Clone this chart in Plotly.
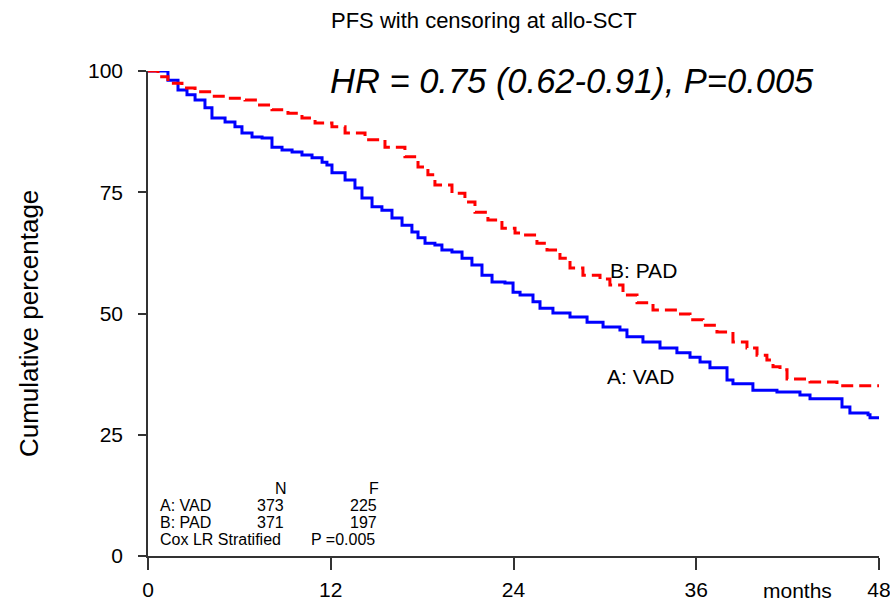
import plotly.graph_objects as go

# Kaplan-Meier step points (months, cumulative %)
vad_steps = [(0, 100), (1.31, 98.1), (1.97, 96.1), (2.56, 95.1), (3.09, 94.0), (3.74, 92.4),
             (4.20, 90.3), (5.06, 89.5), (5.71, 88.5), (6.17, 87.2), (6.83, 86.4), (7.49, 86.2),
             (8.14, 84.3), (8.80, 83.7), (9.46, 83.3), (10.11, 82.7), (10.77, 82.1), (11.43, 81.2),
             (11.75, 80.6), (12.08, 79.0), (12.94, 77.5), (13.59, 75.9), (14.05, 73.8), (14.71, 72.0),
             (15.36, 71.3), (16.02, 69.7), (16.68, 68.2), (17.33, 66.8), (17.73, 65.6), (18.19, 64.5),
             (18.84, 64.1), (19.30, 63.1), (19.96, 62.7), (20.62, 61.4), (21.27, 60.0), (21.93, 57.9),
             (22.59, 56.5), (23.44, 56.3), (23.97, 54.4), (24.43, 53.8), (25.28, 52.4), (25.74, 51.1),
             (26.59, 50.1), (27.71, 49.3), (28.83, 48.2), (29.88, 47.2), (30.99, 46.6), (31.45, 45.2),
             (32.50, 44.1), (33.62, 42.9), (34.73, 41.9), (35.59, 41.0), (36.25, 40.0), (36.90, 38.8),
             (38.02, 36.3), (38.41, 35.5), (39.72, 34.2), (41.30, 33.8), (42.81, 33.2), (43.47, 32.4),
             (45.57, 30.7), (46.09, 29.5), (47.28, 29.1), (47.41, 28.5), (48, 28.5)]

pad_steps = [(0, 100), (0.66, 98.8), (1.31, 97.5), (2.23, 96.5), (3.09, 95.7), (4.20, 94.8),
             (5.25, 94.4), (6.37, 94.0), (7.22, 93.0), (8.14, 92.0), (9.19, 91.3), (10.11, 90.3),
             (10.97, 89.3), (12.08, 88.5), (12.94, 87.2), (14.25, 85.8), (15.56, 84.3), (16.87, 82.3),
             (17.73, 80.2), (18.38, 78.6), (18.84, 76.5), (19.96, 74.8), (20.81, 73.0), (21.47, 70.9),
             (22.32, 69.3), (23.24, 67.6), (24.10, 66.6), (24.62, 66.2), (25.54, 64.5), (26.20, 63.1),
             (27.05, 61.4), (27.71, 59.4), (28.56, 57.9), (29.68, 57.1), (30.33, 55.9), (31.19, 53.8),
             (32.11, 52.2), (33.16, 50.7), (34.73, 49.9), (35.59, 48.7), (36.44, 47.6), (37.36, 46.2),
             (38.41, 44.1), (39.33, 42.9), (39.99, 41.4), (40.64, 40.4), (41.04, 39.0), (41.50, 38.4),
             (41.96, 36.5), (43.47, 35.9), (45.24, 35.1), (48, 35.1)]

x_ticks = [0, 12, 24, 36, 48]
y_ticks = [0, 25, 50, 75, 100]

title_text = "PFS with censoring at allo-SCT"
hr_text = "HR = 0.75 (0.62-0.91), P=0.005"
y_title = "Cumulative percentage"
x_unit = "months"
table_rows = ["A: VAD", "B: PAD", "Cox LR Stratified"]
table_n = ["373", "371"]
table_f = ["225", "197"]
table_p = "P =0.005"

FONT = "Liberation Sans, Arial, sans-serif"

vad_x, vad_y = zip(*vad_steps)
pad_x, pad_y = zip(*pad_steps)

fig = go.Figure()
fig.add_trace(go.Scatter(x=vad_x, y=vad_y, mode="lines", line_shape="hv",
                         line=dict(color="#0000FF", width=3), name="A: VAD"))
fig.add_trace(go.Scatter(x=pad_x, y=pad_y, mode="lines", line_shape="hv",
                         line=dict(color="#FF0000", width=3, dash="12px,6px"), name="B: PAD"))

ann = []
def A(text, x, y, size, xanchor="center", yanchor="middle", xref="x", yref="y", italic=False, angle=0):
    ann.append(dict(text=f"<i>{text}</i>" if italic else text, x=x, y=y, xref=xref, yref=yref,
                    showarrow=False, xanchor=xanchor, yanchor=yanchor, textangle=angle,
                    font=dict(family=FONT, size=size, color="black")))

A(title_text, 0.4596, 1.105, 22, xref="paper", yref="paper")
A(hr_text, 27.84, 97.9, 34.5, italic=True)
A(y_title, -0.163, 0.48, 26, xref="paper", yref="paper", angle=-90)
A(x_unit, 0.889, -0.072, 21, xref="paper", yref="paper")
A("B: PAD", 30.2, 58.8, 21, xanchor="left")
A("A: VAD", 30.0, 37.1, 21, xanchor="left")

# table in lower-left
A("N", 9.26, 14.0, 16, xanchor="right")
A("F", 15.30, 14.0, 16, xanchor="right")
row_y = [10.5, 7.0, 3.5]
for i, r in enumerate(table_rows):
    A(r, 0.66, row_y[i], 16, xanchor="left")
for i in range(2):
    A(table_n[i], 9.06, row_y[i], 16, xanchor="right")
    A(table_f[i], 15.17, row_y[i], 16, xanchor="right")
A(table_p, 15.04, row_y[2], 16, xanchor="right")

fig.update_layout(
    width=890, height=606,
    margin=dict(l=148, r=11, t=71, b=50, pad=0, autoexpand=False),
    paper_bgcolor="white", plot_bgcolor="white",
    showlegend=False,
    annotations=ann,
    font=dict(family=FONT, size=21, color="black"),
    xaxis=dict(range=[0, 48], tickvals=x_ticks, ticktext=[str(v) for v in x_ticks],
               showgrid=False, zeroline=False, showline=True, linecolor="#333333", linewidth=1.5,
               ticks="outside", ticklen=12, tickwidth=1.5, tickcolor="#333333",
               ticklabelstandoff=2, ticklabeloverflow="allow", automargin=False,
               tickfont=dict(family=FONT, size=21, color="black")),
    yaxis=dict(range=[0, 100], tickvals=y_ticks, ticktext=[str(v) for v in y_ticks],
               showgrid=False, zeroline=False, showline=True, linecolor="#333333", linewidth=1.5,
               ticks="outside", ticklen=8, tickwidth=1.5, tickcolor="#333333",
               ticklabelstandoff=11, ticklabeloverflow="allow", automargin=False,
               tickfont=dict(family=FONT, size=21, color="black")),
)

fig.write_html("out.html")
